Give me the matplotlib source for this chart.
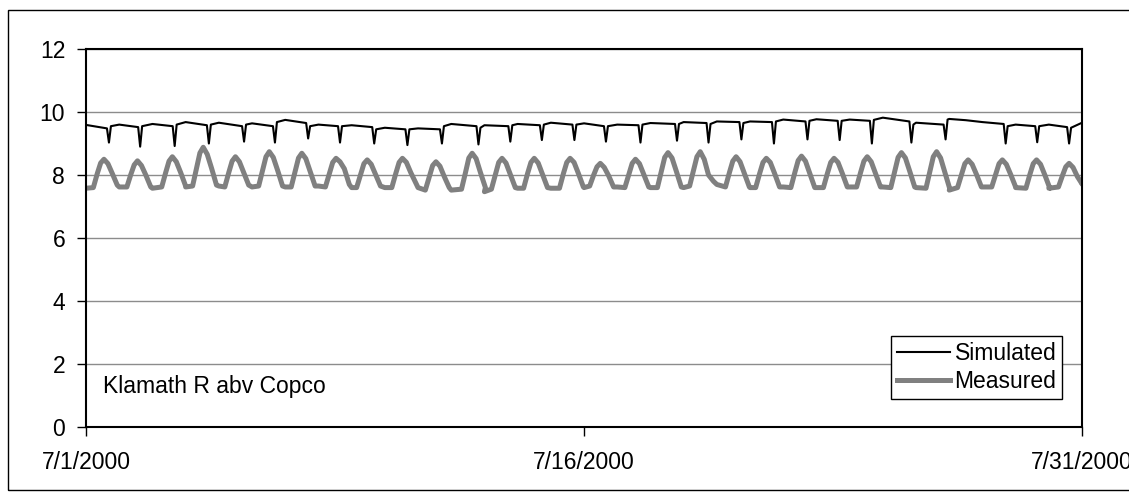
import pandas as pd
import matplotlib.pyplot as plt
from matplotlib.patches import Rectangle

plt.rcParams['font.family'] = ['Liberation Sans', 'DejaVu Sans']

start_date = pd.Timestamp('2000-07-01')

# Simulated, one row per day: [value at midnight, time of afternoon dip (fraction of day),
#                              value just before dip, dip minimum, value just after dip]
# day 26 has no dip (None)
sim_rows = [
    [9.59, 0.69, 9.48, 9.03, 9.55],
    [9.60, 0.63, 9.52, 8.90, 9.55],
    [9.62, 0.67, 9.55, 8.92, 9.60],
    [9.68, 0.70, 9.58, 9.00, 9.60],
    [9.66, 0.76, 9.55, 9.06, 9.60],
    [9.64, 0.69, 9.55, 9.03, 9.68],
    [9.75, 0.69, 9.65, 9.16, 9.55],
    [9.60, 0.65, 9.55, 9.03, 9.55],
    [9.58, 0.68, 9.52, 9.00, 9.45],
    [9.50, 0.68, 9.45, 8.95, 9.45],
    [9.48, 0.72, 9.45, 9.00, 9.55],
    [9.62, 0.82, 9.55, 8.97, 9.50],
    [9.58, 0.78, 9.55, 9.06, 9.58],
    [9.62, 0.73, 9.58, 9.11, 9.60],
    [9.66, 0.71, 9.60, 9.11, 9.60],
    [9.64, 0.66, 9.55, 9.06, 9.55],
    [9.60, 0.70, 9.58, 9.03, 9.60],
    [9.65, 0.80, 9.62, 9.09, 9.62],
    [9.68, 0.75, 9.65, 9.03, 9.62],
    [9.70, 0.74, 9.68, 9.13, 9.65],
    [9.70, 0.72, 9.68, 9.00, 9.70],
    [9.76, 0.73, 9.70, 9.13, 9.72],
    [9.77, 0.70, 9.72, 9.11, 9.72],
    [9.76, 0.67, 9.72, 9.00, 9.75],
    [9.82, 0.86, 9.70, 9.03, 9.60],
    [9.66, 0.89, 9.60, 9.13, 9.76],
    [9.78, None, 9.74, None, None],
    [9.68, 0.70, 9.62, 9.00, 9.55],
    [9.60, 0.65, 9.55, 9.04, 9.55],
    [9.60, 0.61, 9.52, 9.00, 9.50],
]
sim_end = 9.66

# Measured, one row per day:
# [midnight, morning low, half-way up, near peak, peak, near peak, half-way down, evening low]
meas_rows = [
    [7.58, 7.60, 8.05, 8.38, 8.50, 8.36, 8.05, 7.68],
    [7.62, 7.62, 8.02, 8.32, 8.45, 8.30, 8.00, 7.62],
    [7.58, 7.62, 8.08, 8.44, 8.58, 8.42, 8.08, 7.65],
    [7.62, 7.65, 8.22, 8.70, 8.88, 8.66, 8.22, 7.68],
    [7.65, 7.62, 8.08, 8.44, 8.58, 8.42, 8.08, 7.68],
    [7.62, 7.65, 8.15, 8.58, 8.74, 8.56, 8.15, 7.65],
    [7.62, 7.62, 8.12, 8.54, 8.69, 8.52, 8.12, 7.65],
    [7.65, 7.62, 8.05, 8.40, 8.53, 8.42, 8.20, 7.70],
    [7.60, 7.60, 8.02, 8.36, 8.48, 8.34, 8.02, 7.65],
    [7.60, 7.60, 8.05, 8.40, 8.53, 8.40, 8.08, 7.75],
    [7.60, 7.52, 7.95, 8.30, 8.42, 8.28, 7.95, 7.60],
    [7.52, 7.55, 8.08, 8.54, 8.69, 8.52, 8.08, 7.60],
    [7.47, 7.55, 8.02, 8.40, 8.53, 8.38, 8.02, 7.60],
    [7.58, 7.58, 8.05, 8.40, 8.53, 8.38, 8.02, 7.60],
    [7.58, 7.58, 8.05, 8.40, 8.53, 8.40, 8.05, 7.62],
    [7.60, 7.65, 8.00, 8.26, 8.37, 8.24, 7.98, 7.62],
    [7.62, 7.60, 8.02, 8.37, 8.50, 8.36, 8.02, 7.62],
    [7.60, 7.60, 8.12, 8.56, 8.71, 8.54, 8.12, 7.62],
    [7.60, 7.65, 8.15, 8.58, 8.74, 8.50, 8.00, 7.80],
    [7.70, 7.62, 8.08, 8.44, 8.58, 8.42, 8.05, 7.62],
    [7.60, 7.60, 8.05, 8.40, 8.53, 8.40, 8.05, 7.62],
    [7.62, 7.60, 8.08, 8.46, 8.60, 8.44, 8.05, 7.60],
    [7.60, 7.60, 8.05, 8.40, 8.53, 8.40, 8.05, 7.62],
    [7.62, 7.62, 8.08, 8.44, 8.58, 8.42, 8.05, 7.62],
    [7.62, 7.60, 8.12, 8.56, 8.71, 8.54, 8.12, 7.62],
    [7.60, 7.58, 8.12, 8.58, 8.74, 8.54, 8.08, 7.55],
    [7.52, 7.60, 8.02, 8.36, 8.48, 8.34, 8.02, 7.62],
    [7.62, 7.62, 8.02, 8.36, 8.48, 8.34, 8.02, 7.62],
    [7.60, 7.58, 8.02, 8.36, 8.48, 8.34, 8.00, 7.58],
    [7.58, 7.62, 7.98, 8.26, 8.37, 8.24, 7.95, 7.70],
]
meas_end = 7.78
# time of the daily peak (fraction of day)
meas_peak_at = [0.54, 0.55, 0.60, 0.53, 0.50, 0.52, 0.50, 0.53, 0.47, 0.53,
                0.54, 0.63, 0.53, 0.50, 0.58, 0.49, 0.55, 0.53, 0.50, 0.58,
                0.49, 0.55, 0.53, 0.53, 0.56, 0.62, 0.57, 0.60, 0.63, 0.61]

x_tick_labels = ['7/1/2000', '7/16/2000', '7/31/2000']
x_tick_days = [0, 15, 30]
y_ticks = [0, 2, 4, 6, 8, 10, 12]
site_name = 'Klamath R abv Copco'

# build the time/value pairs for each series
sim_t, sim_v = [], []
for d, (v0, dip_at, pre, dip, post) in enumerate(sim_rows):
    sim_t.append(d); sim_v.append(v0)
    if dip_at is None:
        sim_t.append(d + 0.5); sim_v.append(pre)
        continue
    sim_t += [d + dip_at - 0.06, d + dip_at, d + dip_at + 0.06]
    sim_v += [pre, dip, post]
sim_t.append(len(sim_rows)); sim_v.append(sim_end)

meas_t, meas_v = [], []
for d, row in enumerate(meas_rows):
    pk = meas_peak_at[d]
    offsets = [0, pk - 0.32, pk - 0.2, pk - 0.1, pk, pk + 0.12, pk + 0.25, pk + 0.4]
    meas_t += [d + o for o in offsets]
    meas_v += row
meas_t.append(len(meas_rows)); meas_v.append(meas_end)

sim_x = start_date + pd.to_timedelta(sim_t, unit='D')
meas_x = start_date + pd.to_timedelta(meas_t, unit='D')

fs = 16.5

fig = plt.figure(figsize=(11.29, 4.95), dpi=100)
ax = fig.add_axes([0.0762, 0.1374, 0.8822, 0.7636])

# outer chart border (right side runs off the image)
fig.patches.append(Rectangle((8 / 1129, 1 - 490 / 495), 1.5, (490 - 10) / 495,
                             transform=fig.transFigure, fill=False,
                             edgecolor='black', linewidth=1))

ax.plot(sim_x, sim_v, color='black', linewidth=1.5, label='Simulated', zorder=3)
ax.plot(meas_x, meas_v, color='#808080', linewidth=3.6, label='Measured', zorder=2)

ax.set_ylim(0, 12)
ax.set_xlim(start_date, start_date + pd.Timedelta(days=30))
ax.set_yticks(y_ticks)
ax.set_xticks([start_date + pd.Timedelta(days=d) for d in x_tick_days])
ax.set_xticklabels(x_tick_labels)
ax.tick_params(axis='both', labelsize=fs, length=6.5, width=1, direction='out')
ax.tick_params(axis='y', pad=8.5)
ax.tick_params(axis='x', pad=11)
ax.grid(axis='y', color='#8c8c8c', linewidth=1)
ax.set_axisbelow(True)
for s in ax.spines.values():
    s.set_linewidth(1.5)
    s.set_color('black')

ax.text(0.017, 0.09, site_name, transform=ax.transAxes, fontsize=fs,
        va='baseline', ha='left')

leg = ax.legend(loc='lower right', bbox_to_anchor=(0.98, 0.074), fontsize=fs,
                frameon=True, fancybox=False, framealpha=1, edgecolor='black',
                handlelength=2.3, handletextpad=0.2, labelspacing=0.25, borderpad=0.25,
                borderaxespad=0)
leg.get_frame().set_linewidth(1)

fig.savefig('out.png', dpi=100)
